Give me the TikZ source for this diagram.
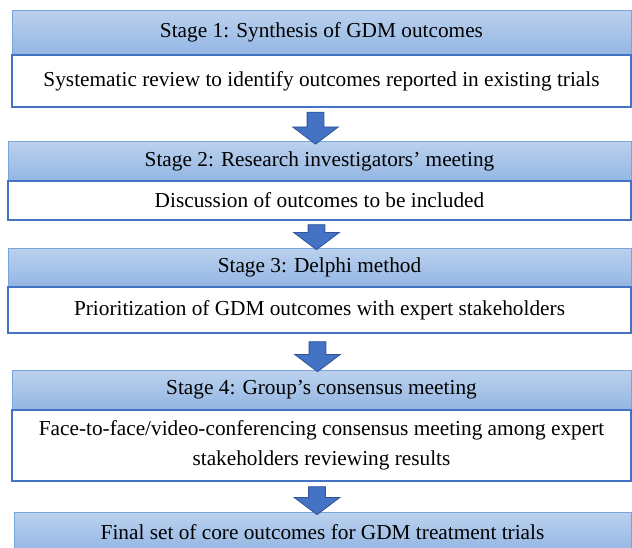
\documentclass[tikz,border=0pt]{standalone}
\usepackage{fontspec}
\setmainfont{Liberation Serif}
\usetikzlibrary{shapes.arrows,calc}

\definecolor{headtop}{RGB}{188,209,238}
\definecolor{headbot}{RGB}{146,182,227}
\definecolor{headline}{RGB}{120,165,218}
\definecolor{boxline}{RGB}{68,114,196}
\definecolor{arrowfill}{RGB}{68,114,196}
\definecolor{arrowline}{RGB}{47,85,151}

\begin{document}
\begin{tikzpicture}[x=1pt,y=-1pt,
  stagehead/.style={rectangle, draw=headline, line width=1pt, top color=headtop,
    bottom color=headbot, anchor=north west, minimum width=619pt,
    inner sep=0pt, outer sep=0pt, font=\fontsize{21.3}{25}\selectfont},
  stagebody/.style={rectangle, draw=boxline, line width=1.5pt, fill=white,
    anchor=north west, minimum width=619pt, inner sep=0pt, outer sep=0pt,
    align=center, font=\fontsize{21.3}{30}\selectfont},
  downarrow/.style={single arrow, draw=arrowline, fill=arrowfill, line width=0.8pt,
    rotate=-90, inner xsep=0pt, inner ysep=8pt, single arrow head extend=14.5pt,
    single arrow tip angle=106, minimum height=30pt}]
  \clip (0,0) rectangle (632,547);

  % Stage 1
  \node[stagehead, minimum height=45pt] (h1) at (12,10) {Stage 1: Synthesis of GDM outcomes};
  \node[stagebody, minimum height=52pt] (b1) at (12,55) {Systematic review to identify outcomes reported in existing trials};

  % Stage 2
  \node[stagehead, minimum height=40pt, minimum width=623pt] (h2) at (8,141) {Stage 2: Research investigators’ meeting};
  \node[stagebody, minimum height=39pt, minimum width=623pt] (b2) at (8,181) {Discussion of outcomes to be included};

  % Stage 3
  \node[stagehead, minimum height=39pt, minimum width=623pt] (h3) at (8,248) {Stage 3: Delphi method};
  \node[stagebody, minimum height=46pt, minimum width=623pt] (b3) at (8,287) {Prioritization of GDM outcomes with expert stakeholders};

  % Stage 4
  \node[stagehead, minimum height=40pt] (h4) at (12,370) {Stage 4: Group’s consensus meeting};
  \node[stagebody, minimum height=71pt] (b4) at (12,410) {Face-to-face/video-conferencing consensus meeting among expert\\stakeholders reviewing results};

  % Final set
  \node[stagehead, minimum height=40pt, minimum width=617pt] (h5) at (14,512) {Final set of core outcomes for GDM treatment trials};

  % Arrows between stages
  \node[downarrow, minimum height=32pt] (a1) at ($(b1.south)!0.5!(h2.north)+(-5,1)$) {};
  \node[downarrow, minimum height=25pt] (a2) at ($(b2.south)!0.5!(h3.north)+(-3,0)$) {};
  \node[downarrow, minimum height=30pt] (a3) at ($(b3.south)!0.5!(h4.north)+(-3,2)$) {};
  \node[downarrow, minimum height=28pt] (a4) at ($(b4.south)!0.5!(h5.north)+(-5,1)$) {};
\end{tikzpicture}
\end{document}
